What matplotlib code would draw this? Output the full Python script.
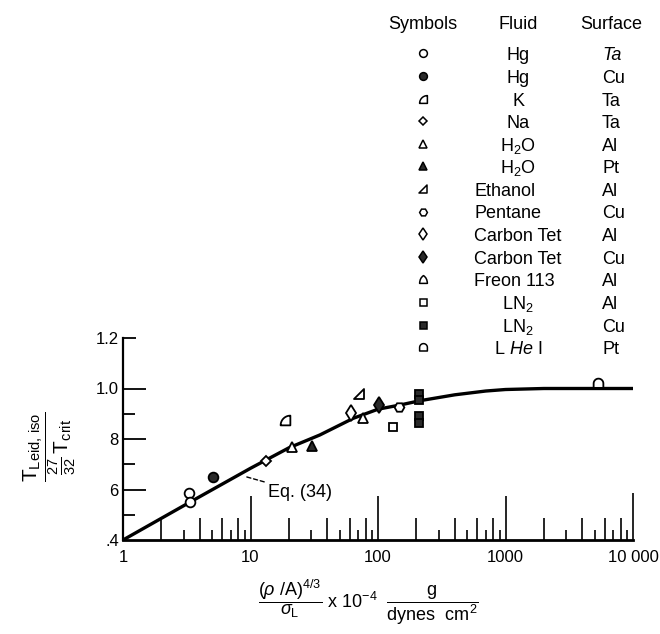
import numpy as np
import matplotlib
matplotlib.use("Agg")
import matplotlib.pyplot as plt
import matplotlib.font_manager as fm
from matplotlib.path import Path

# ---------------- data ----------------
eq_x = [1, 3.3, 10, 20, 35, 64, 100, 150, 215, 400, 700, 1000, 2000, 10000]
eq_y = [0.40, 0.548, 0.684, 0.765, 0.816, 0.882, 0.918, 0.935, 0.952, 0.975, 0.990, 0.996, 1.0, 1.0]

hg_ta_x = [3.31, 3.35];   hg_ta_y = [0.587, 0.550]
hg_cu_x = [5.05];         hg_cu_y = [0.648]
k_ta_x = [18.8];          k_ta_y = [0.875]
na_ta_x = [13.2];         na_ta_y = [0.714]
h2o_al_x = [21.0, 76.7];  h2o_al_y = [0.769, 0.882]
h2o_pt_x = [30.2];        h2o_pt_y = [0.772]
eth_al_x = [71.3];        eth_al_y = [0.978]
pent_cu_x = [147];        pent_cu_y = [0.928]
ct_al_x = [61.1];         ct_al_y = [0.902]
ct_cu_x = [102];          ct_cu_y = [0.935]
freon_al_x = [];          freon_al_y = []
ln2_al_x = [132];         ln2_al_y = [0.849]
ln2_cu_x = [211, 211, 211, 211]; ln2_cu_y = [0.980, 0.953, 0.891, 0.863]
lhe_pt_x = [5310];        lhe_pt_y = [1.020]

leg_fluid = ["Hg", "Hg", "K", "Na", "H$_2$O", "H$_2$O", "Ethanol", "Pentane",
             "Carbon Tet", "Carbon Tet", "Freon 113", "LN$_2$", "LN$_2$", "L $\\mathit{He}$ I"]
leg_surface = ["Ta", "Cu", "Ta", "Ta", "Al", "Pt", "Al", "Cu", "Al", "Cu", "Al", "Al", "Cu", "Pt"]

x_ticks = [1, 10, 100, 1000, 10000]
x_ticklabels = ["1", "10", "100", "1000", "10 000"]
y_ticks = [0.4, 0.6, 0.8, 1.0, 1.2]
y_ticklabels = [".4", "6", "8", "1.0", "1.2"]

# ---------------- fonts ----------------
names = {f.name for f in fm.fontManager.ttflist}
if "Liberation Sans Narrow" in names:
    FAM, FS, TFS = "Liberation Sans Narrow", 14.5, 13.5
else:
    FAM, FS, TFS = "Liberation Sans", 13, 12
plt.rcParams["font.family"] = [FAM, "DejaVu Sans"]
plt.rcParams["mathtext.fontset"] = "custom"
plt.rcParams["mathtext.rm"] = FAM
plt.rcParams["mathtext.it"] = FAM + ":italic"
plt.rcParams["mathtext.bf"] = FAM + ":bold"

# ---------------- marker shapes ----------------
t = np.linspace(np.pi, np.pi / 2, 16)
quarter = Path(np.vstack([np.column_stack([1 + 2 * np.cos(t), -1 + 2 * np.sin(t)]),
                          [[1, -1], [-1, -1]]]), closed=True)
right_tri = Path([(-1, -1), (1, -1), (1, 1), (-1, -1)], closed=True)
peak_dome = Path([(-1, -1), (1, -1), (0.95, 0.4), (0, 1), (-0.95, 0.4), (-1, -1), (-1, -1)],
                 [Path.MOVETO, Path.LINETO, Path.CURVE3, Path.CURVE3, Path.CURVE3, Path.CURVE3,
                  Path.CLOSEPOLY])
ta = np.linspace(0, np.pi, 20)
round_dome = Path(np.vstack([[[-1, -0.9], [1, -0.9]],
                             np.column_stack([np.cos(ta), np.sin(ta) * 1.0]),
                             [[-1, -0.9]]]), closed=True)

K, F = "black", "#2a2a2a"
styles = [
    dict(marker="o", mfc="white"),
    dict(marker="o", mfc=F),
    dict(marker=quarter, mfc="white"),
    dict(marker="D", mfc="white", ms_scale=0.8),
    dict(marker="^", mfc="white"),
    dict(marker="^", mfc=F),
    dict(marker=right_tri, mfc="white"),
    dict(marker="H", mfc="white"),
    dict(marker="d", mfc="white", ms_scale=1.1),
    dict(marker="d", mfc=F, ms_scale=1.1),
    dict(marker=peak_dome, mfc="white"),
    dict(marker="s", mfc="white", ms_scale=0.9),
    dict(marker="s", mfc=F, ms_scale=0.9),
    dict(marker=round_dome, mfc="white"),
]
series = [(hg_ta_x, hg_ta_y), (hg_cu_x, hg_cu_y), (k_ta_x, k_ta_y), (na_ta_x, na_ta_y),
          (h2o_al_x, h2o_al_y), (h2o_pt_x, h2o_pt_y), (eth_al_x, eth_al_y),
          (pent_cu_x, pent_cu_y), (ct_al_x, ct_al_y), (ct_cu_x, ct_cu_y),
          (freon_al_x, freon_al_y), (ln2_al_x, ln2_al_y), (ln2_cu_x, ln2_cu_y),
          (lhe_pt_x, lhe_pt_y)]

# ---------------- figure ----------------
W, H = 660, 634
fig = plt.figure(figsize=(W / 100, H / 100), dpi=100)
ax = fig.add_axes([123 / W, (H - 540) / H, (633 - 123) / W, (540 - 338) / H])
ax.set_xscale("log")
ax.set_xlim(1, 10000)
ax.set_ylim(0.4, 1.2)
for s in ("top", "right"):
    ax.spines[s].set_visible(False)
ax.spines["left"].set_linewidth(1.6)
ax.spines["bottom"].set_linewidth(2.0)

ax.plot(eq_x, eq_y, color=K, lw=2.4, solid_capstyle="round", zorder=2)

MS = 7.0
for (xs, ys), st in zip(series, styles):
    if xs:
        ax.plot(xs, ys, ls="none", marker=st["marker"], mfc=st["mfc"], mec=K, mew=1.3,
                ms=MS * st.get("ms_scale", 1.0), zorder=3, clip_on=False)

# Eq. (34) annotation
ax.annotate("Eq. (34)", xy=(9.3, 0.650), xytext=(13.8, 0.590), fontsize=FS, va="center",
            ha="left",
            arrowprops=dict(arrowstyle="-", lw=1.0, ls=(0, (3, 2)), color=K,
                            shrinkA=1, shrinkB=0))

# x ticks: decades long, even multiples medium, odd multiples short (inward)
xt_pos, xt_lab, xt_len = [], [], []
for d in range(4):
    base = 10 ** d
    for m in range(1, 10):
        v = m * base
        xt_pos.append(v)
        if m == 1:
            xt_lab.append(x_ticklabels[d]); xt_len.append(0 if d == 0 else 32)
        else:
            xt_lab.append(""); xt_len.append(16 if m % 2 == 0 else 7.5)
xt_pos.append(10000); xt_lab.append(x_ticklabels[4]); xt_len.append(34)
ax.set_xticks(xt_pos)
ax.set_xticklabels(xt_lab)
ax.xaxis.set_minor_locator(matplotlib.ticker.NullLocator())
ax.tick_params(axis="x", direction="in", width=1.2, pad=7, labelsize=TFS, color=K)
for tk, L in zip(ax.xaxis.get_major_ticks(len(xt_pos)), xt_len):
    tk.tick1line.set_markersize(L)

yt_pos = [0.4, 0.5, 0.6, 0.7, 0.8, 0.9, 1.0, 1.2]
yt_len = [0, 8.5, 16.5, 8.5, 16.5, 8.5, 16.5, 9]
yt_lab = []
for v in yt_pos:
    yt_lab.append(y_ticklabels[y_ticks.index(v)] if v in y_ticks else "")
ax.set_yticks(yt_pos)
ax.set_yticklabels(yt_lab)
ax.yaxis.set_minor_locator(matplotlib.ticker.NullLocator())
ax.tick_params(axis="y", direction="in", width=1.3, pad=3, labelsize=TFS, color=K)
for tk, L in zip(ax.yaxis.get_major_ticks(len(yt_pos)), yt_len):
    tk.tick1line.set_markersize(L)

# axis labels
fig.text(50 / W, 1 - 447 / H,
         r"$\dfrac{\mathrm{T}_{\mathrm{Leid,\,iso}}}{\frac{27}{32}\,\mathrm{T}_{\mathrm{crit}}}$",
         rotation=90, ha="center", va="center", fontsize=FS + 2)
fig.text(368 / W, 1 - 602 / H,
         r"$\dfrac{(\rho\ /\mathrm{A})^{4/3}}{\sigma_{\mathrm{L}}}\ \mathrm{x}\ 10^{-4}\ \ "
         r"\dfrac{\mathrm{g}}{\mathrm{dynes\ \ cm}^{2}}$",
         ha="center", va="center", fontsize=FS)

# ---------------- legend table ----------------
lax = fig.add_axes([0, 0, 1, 1], facecolor="none")
lax.set_xlim(0, W); lax.set_ylim(H, 0); lax.axis("off")
left_aligned = {"Ethanol", "Pentane", "Carbon Tet", "Freon 113"}
lax.text(423, 21.7 + 7, "Symbols", ha="center", va="baseline", fontsize=FS)
lax.text(518, 21.7 + 7, "Fluid", ha="center", va="baseline", fontsize=FS)
lax.text(611, 21.7 + 7, "Surface", ha="center", va="baseline", fontsize=FS)
for i, (fl, su, st) in enumerate(zip(leg_fluid, leg_surface, styles)):
    yc = 53.3 + i * 22.6
    lax.plot([423], [yc], ls="none", marker=st["marker"], mfc=st["mfc"], mec=K, mew=1.1,
             ms=5.6 * st.get("ms_scale", 1.0))
    if fl in left_aligned:
        lax.text(474, yc + 7, fl, ha="left", va="baseline", fontsize=FS)
    else:
        lax.text(518, yc + 7, fl, ha="center", va="baseline", fontsize=FS)
    lax.text(602, yc + 7, su, ha="left", va="baseline", fontsize=FS,
             style="italic" if i == 0 else "normal")

fig.savefig("out.png", dpi=100, facecolor="white")
